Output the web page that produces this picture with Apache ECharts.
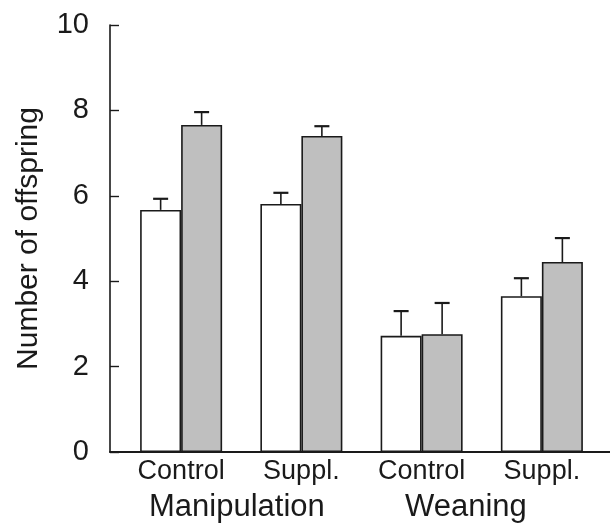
<!DOCTYPE html>
<html>
<head>
<meta charset="utf-8">
<script src="https://cdn.jsdelivr.net/npm/echarts@6/dist/echarts.min.js"></script>
<style>html,body{margin:0;padding:0;background:#fff}#c{width:610px;height:523px}</style>
</head>
<body>
<div id="c"></div>
<script>
var categories = ['Control', 'Suppl.', 'Control', 'Suppl.'];
var groupLabels = ['Manipulation', 'Weaning'];
var openMeans = [5.67, 5.81, 2.72, 3.65];
var openErrors = [0.26, 0.26, 0.58, 0.42];
var grayMeans = [7.66, 7.40, 2.76, 4.45];
var grayErrors = [0.30, 0.23, 0.73, 0.56];
var yTicks = [0, 2, 4, 6, 8, 10];

var FONT = "'Liberation Sans', Arial, Helvetica, sans-serif";
var BAR_W = 41;
var INK = '#1a1a1a';

function errSeries(means, errs, side) {
  return {
    type: 'custom',
    xAxisIndex: 0, yAxisIndex: 0,
    z: 5,
    data: means.map(function (m, i) { return [i, m, m + errs[i]]; }),
    renderItem: function (params, api) {
      var base = api.coord([api.value(0), api.value(1)]);
      var top = api.coord([api.value(0), api.value(2)]);
      var x = base[0] + side * BAR_W / 2;
      var cap = 7.5;
      return {
        type: 'group',
        children: [
          { type: 'line', shape: { x1: x, y1: base[1], x2: x, y2: top[1] }, style: { stroke: INK, lineWidth: 1.6 } },
          { type: 'line', shape: { x1: x - cap, y1: top[1], x2: x + cap, y2: top[1] }, style: { stroke: INK, lineWidth: 2.2 } }
        ]
      };
    }
  };
}

var chart = echarts.init(document.getElementById('c'));
chart.setOption({
  animation: false,
  backgroundColor: '#fff',
  grid: [
    { left: 121, right: 8, top: 25, bottom: 71 },
    { left: 110, right: 0, top: 25, bottom: 71 }
  ],
  xAxis: [
    {
      type: 'category', gridIndex: 0, data: categories,
      axisLine: { show: false }, axisTick: { show: false },
      axisLabel: { color: INK, fontFamily: FONT, fontSize: 27, margin: 6 }
    },
    {
      type: 'value', gridIndex: 1, min: 0, max: 1,
      axisLine: { show: true, lineStyle: { color: INK, width: 2 } },
      axisTick: { show: false }, axisLabel: { show: false }, splitLine: { show: false }
    }
  ],
  yAxis: [
    {
      type: 'value', gridIndex: 0, min: yTicks[0], max: yTicks[yTicks.length - 1], interval: 2,
      offset: 11,
      name: 'Number of offspring', nameLocation: 'middle', nameRotate: 90, nameGap: 66,
      nameTextStyle: { color: INK, fontFamily: FONT, fontSize: 30 },
      axisLine: { show: true, lineStyle: { color: INK, width: 1.6 } },
      axisTick: { show: true, inside: true, length: 9, lineStyle: { color: INK, width: 1.4 } },
      axisLabel: { color: INK, fontFamily: FONT, fontSize: 29, margin: 21 },
      splitLine: { show: false }
    },
    { type: 'value', gridIndex: 1, min: 0, max: 10, show: false }
  ],
  series: [
    {
      type: 'bar', xAxisIndex: 0, yAxisIndex: 0, data: openMeans,
      barWidth: BAR_W, barGap: '0%',
      itemStyle: { color: '#ffffff', borderColor: INK, borderWidth: 1.6 }
    },
    {
      type: 'bar', xAxisIndex: 0, yAxisIndex: 0, data: grayMeans,
      barWidth: BAR_W, barGap: '0%',
      itemStyle: { color: '#bfbfbf', borderColor: INK, borderWidth: 1.6 }
    },
    errSeries(openMeans, openErrors, -1),
    errSeries(grayMeans, grayErrors, 1)
  ],
  graphic: [
    { type: 'text', left: 149, top: 492, style: { text: groupLabels[0], font: '31px ' + FONT, fill: INK } },
    { type: 'text', left: 405, top: 492, style: { text: groupLabels[1], font: '31px ' + FONT, fill: INK } }
  ]
});
</script>
</body>
</html>
